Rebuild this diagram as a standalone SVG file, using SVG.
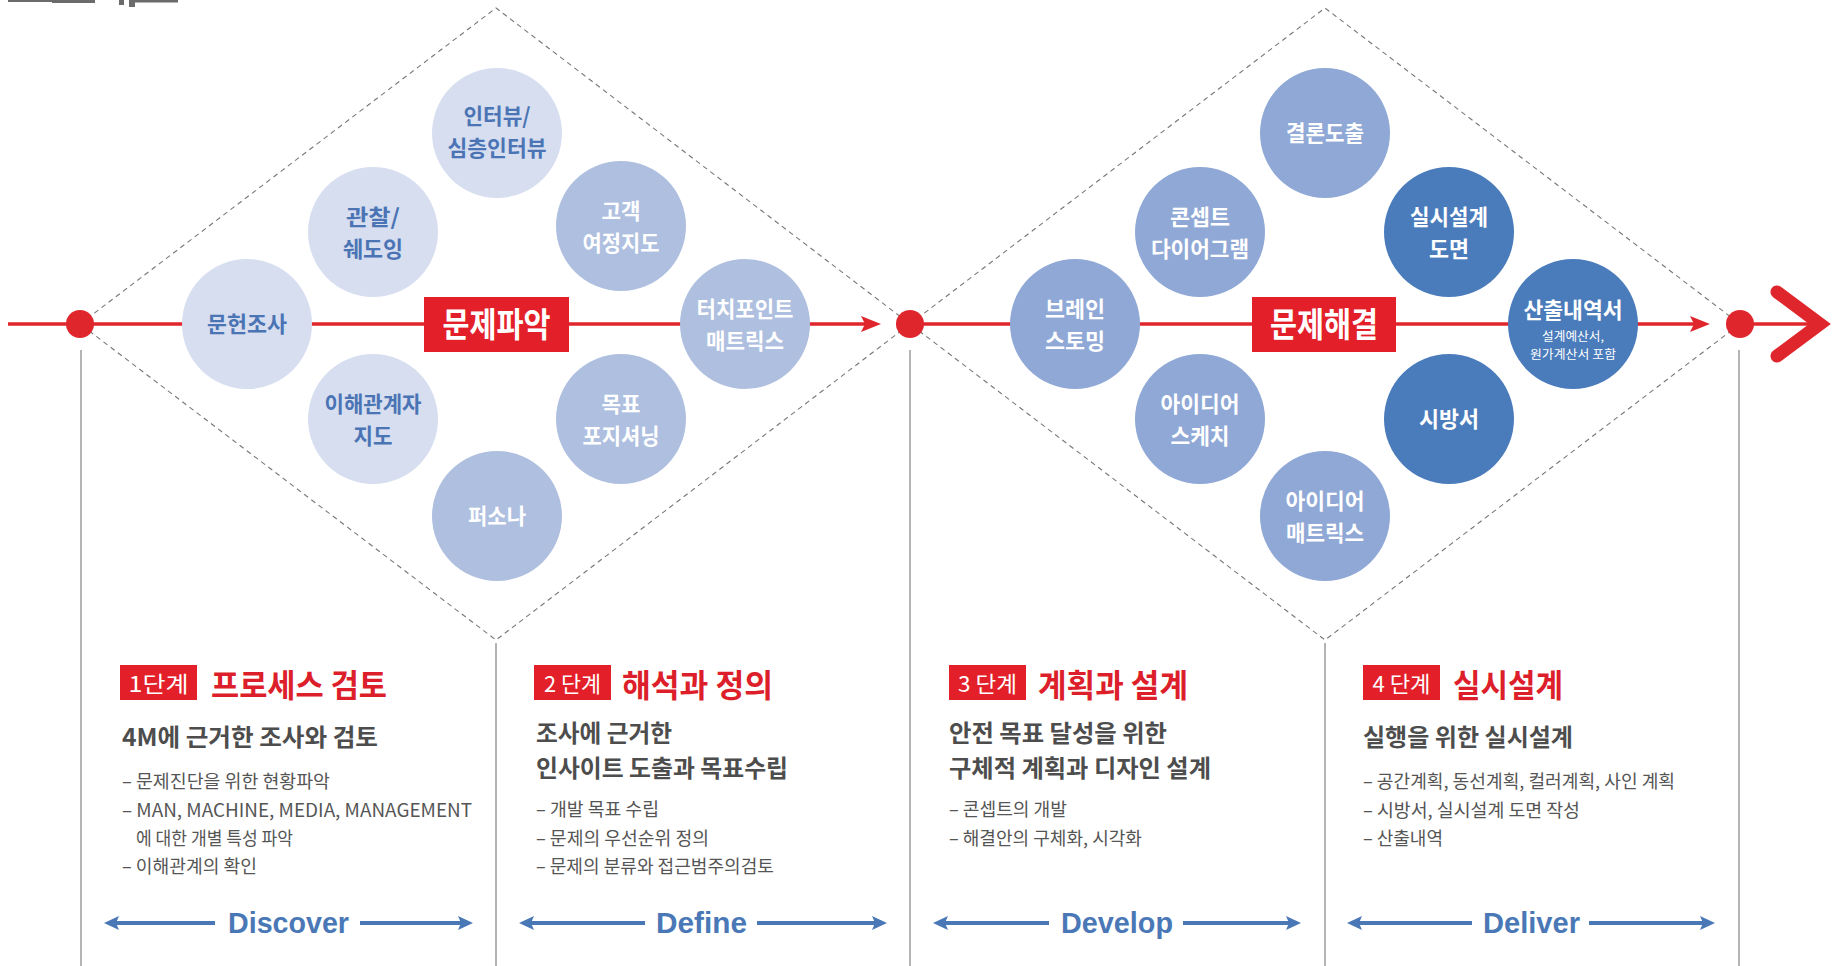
<svg xmlns="http://www.w3.org/2000/svg" width="1835" height="966" viewBox="0 0 1835 966">
<style>
  text { font-family: "Noto Sans CJK KR", "Noto Sans", sans-serif; }
  .c1 { fill: #d6def0; }
  .c2 { fill: #aebfdf; }
  .c3 { fill: #8fa8d5; }
  .c4 { fill: #4a7bbb; }
  .tb { fill: #4b74b4; font-size: 22px; font-weight: 700; text-anchor: middle; }
  .tw { fill: #ffffff; font-size: 22px; font-weight: 700; text-anchor: middle; }
  .ts { fill: #ffffff; font-size: 12px; font-weight: 400; text-anchor: middle; }
  .box { fill: #e3202a; }
  .boxt { fill: #ffffff; font-size: 34px; font-weight: 700; text-anchor: middle; }
  .stept { fill: #ffffff; font-size: 22px; font-weight: 400; text-anchor: middle; }
  .head { fill: #dc1f2b; font-size: 32px; font-weight: 700; }
  .sub { fill: #4d4d4d; font-size: 24px; font-weight: 700; }
  .bul { fill: #555555; font-size: 18px; font-weight: 400; }
  .phase { fill: #4a78b6; font-size: 29px; font-weight: 700; font-family: "Liberation Sans", Arial, sans-serif; text-anchor: middle; }
  .dash { fill: none; stroke: #777777; stroke-width: 1.1; stroke-dasharray: 5 4; }
  .vline { stroke: #8c8c8c; stroke-width: 1.3; fill: none; }
  .red { stroke: #e0262d; stroke-width: 3.5; fill: none; }
  .redf { fill: #e0262d; }
  .barr { stroke: #4a78b6; stroke-width: 4; fill: none; }
  .barrh { fill: #4a78b6; }
</style>

<!-- cropped heading fragment at top-left -->
<g id="top-fragment" fill="#6b6b6b">
  <rect x="8" y="0" width="87" height="2"/>
  <rect x="52" y="0" width="43" height="3"/>
  <rect x="119" y="0" width="5" height="5"/>
  <rect x="129" y="0" width="6" height="7"/>
  <rect x="135" y="0" width="43" height="2.5"/>
</g>

<g id="connectors">
  <polygon class="dash" points="80,324 496,8 910,324 496,640"/>
  <polygon class="dash" points="910,324 1325,8 1740,324 1325,640"/>
  <line class="vline" x1="81" y1="350" x2="81" y2="966"/>
  <line class="vline" x1="496" y1="643" x2="496" y2="966"/>
  <line class="vline" x1="910" y1="350" x2="910" y2="966"/>
  <line class="vline" x1="1325" y1="643" x2="1325" y2="966"/>
  <line class="vline" x1="1739" y1="350" x2="1739" y2="966"/>
  <line class="red" x1="8" y1="324" x2="868" y2="324"/>
  <path class="redf" d="M861,316 L881,324 L861,332 L865,324 Z"/>
  <line class="red" x1="910" y1="324" x2="1697" y2="324"/>
  <path class="redf" d="M1690,316 L1710,324 L1690,332 L1694,324 Z"/>
  <line class="red" x1="1740" y1="324" x2="1816" y2="324"/>
  <polyline points="1777,292 1820,324 1777,356" fill="none" stroke="#e0262d" stroke-width="13" stroke-linecap="round" stroke-linejoin="miter"/>
  <line class="barr" x1="112" y1="923" x2="215" y2="923"/>
  <path class="barrh" d="M104,923 L119,916 L116,923 L119,930 Z"/>
  <line class="barr" x1="360" y1="923" x2="465" y2="923"/>
  <path class="barrh" d="M473,923 L458,916 L461,923 L458,930 Z"/>
  <line class="barr" x1="527" y1="923" x2="645" y2="923"/>
  <path class="barrh" d="M519,923 L534,916 L531,923 L534,930 Z"/>
  <line class="barr" x1="757" y1="923" x2="879" y2="923"/>
  <path class="barrh" d="M887,923 L872,916 L875,923 L872,930 Z"/>
  <line class="barr" x1="941" y1="923" x2="1049" y2="923"/>
  <path class="barrh" d="M933,923 L948,916 L945,923 L948,930 Z"/>
  <line class="barr" x1="1183" y1="923" x2="1293" y2="923"/>
  <path class="barrh" d="M1301,923 L1286,916 L1289,923 L1286,930 Z"/>
  <line class="barr" x1="1355" y1="923" x2="1472" y2="923"/>
  <path class="barrh" d="M1347,923 L1362,916 L1359,923 L1362,930 Z"/>
  <line class="barr" x1="1589" y1="923" x2="1707" y2="923"/>
  <path class="barrh" d="M1715,923 L1700,916 L1703,923 L1700,930 Z"/>
</g>

<!-- Diamond 1 nodes -->
<g id="n-munheon"><circle class="c1" cx="247" cy="324" r="65"/><text class="tb" x="247" y="332" textLength="80" lengthAdjust="spacingAndGlyphs">문헌조사</text></g>
<g id="n-gwanchal"><circle class="c1" cx="373" cy="232" r="65"/><text class="tb"><tspan x="373" y="225" textLength="54" lengthAdjust="spacingAndGlyphs">관찰/</tspan><tspan x="373" y="257" textLength="60" lengthAdjust="spacingAndGlyphs">쉐도잉</tspan></text></g>
<g id="n-interview"><circle class="c1" cx="497" cy="133" r="65"/><text class="tb"><tspan x="497" y="124" textLength="67" lengthAdjust="spacingAndGlyphs">인터뷰/</tspan><tspan x="497" y="156" textLength="99" lengthAdjust="spacingAndGlyphs">심층인터뷰</tspan></text></g>
<g id="n-stakeholder"><circle class="c1" cx="373" cy="419" r="65"/><text class="tb"><tspan x="373" y="412" textLength="97" lengthAdjust="spacingAndGlyphs">이해관계자</tspan><tspan x="373" y="444" textLength="39" lengthAdjust="spacingAndGlyphs">지도</tspan></text></g>
<g id="n-persona"><circle class="c2" cx="497" cy="516" r="65"/><text class="tw" x="497" y="524" textLength="58" lengthAdjust="spacingAndGlyphs">퍼소나</text></g>
<g id="n-journey"><circle class="c2" cx="621" cy="226" r="65"/><text class="tw"><tspan x="621" y="219" textLength="39" lengthAdjust="spacingAndGlyphs">고객</tspan><tspan x="621" y="251" textLength="77" lengthAdjust="spacingAndGlyphs">여정지도</tspan></text></g>
<g id="n-positioning"><circle class="c2" cx="621" cy="419" r="65"/><text class="tw"><tspan x="621" y="412" textLength="39" lengthAdjust="spacingAndGlyphs">목표</tspan><tspan x="621" y="444" textLength="77" lengthAdjust="spacingAndGlyphs">포지셔닝</tspan></text></g>
<g id="n-touchpoint"><circle class="c2" cx="745" cy="324" r="65"/><text class="tw"><tspan x="745" y="317" textLength="97" lengthAdjust="spacingAndGlyphs">터치포인트</tspan><tspan x="745" y="349" textLength="78" lengthAdjust="spacingAndGlyphs">매트릭스</tspan></text></g>
<g id="label-problem-find"><rect class="box" x="424" y="297" width="145" height="55"/><text class="boxt" x="496.5" y="337" textLength="108" lengthAdjust="spacingAndGlyphs">문제파악</text></g>

<!-- Diamond 2 nodes -->
<g id="n-brainstorm"><circle class="c3" cx="1075" cy="324" r="65"/><text class="tw"><tspan x="1075" y="317" textLength="60" lengthAdjust="spacingAndGlyphs">브레인</tspan><tspan x="1075" y="349" textLength="60" lengthAdjust="spacingAndGlyphs">스토밍</tspan></text></g>
<g id="n-concept"><circle class="c3" cx="1200" cy="232" r="65"/><text class="tw"><tspan x="1200" y="225" textLength="60" lengthAdjust="spacingAndGlyphs">콘셉트</tspan><tspan x="1200" y="257" textLength="98" lengthAdjust="spacingAndGlyphs">다이어그램</tspan></text></g>
<g id="n-conclusion"><circle class="c3" cx="1325" cy="133" r="65"/><text class="tw" x="1325" y="141" textLength="78" lengthAdjust="spacingAndGlyphs">결론도출</text></g>
<g id="n-sketch"><circle class="c3" cx="1200" cy="419" r="65"/><text class="tw"><tspan x="1200" y="412" textLength="79" lengthAdjust="spacingAndGlyphs">아이디어</tspan><tspan x="1200" y="444" textLength="59" lengthAdjust="spacingAndGlyphs">스케치</tspan></text></g>
<g id="n-idea-matrix"><circle class="c3" cx="1325" cy="516" r="65"/><text class="tw"><tspan x="1325" y="509" textLength="79" lengthAdjust="spacingAndGlyphs">아이디어</tspan><tspan x="1325" y="541" textLength="78" lengthAdjust="spacingAndGlyphs">매트릭스</tspan></text></g>
<g id="n-drawing"><circle class="c4" cx="1449" cy="232" r="65"/><text class="tw"><tspan x="1449" y="225" textLength="78" lengthAdjust="spacingAndGlyphs">실시설계</tspan><tspan x="1449" y="257" textLength="40" lengthAdjust="spacingAndGlyphs">도면</tspan></text></g>
<g id="n-spec"><circle class="c4" cx="1449" cy="419" r="65"/><text class="tw" x="1449" y="427" textLength="60" lengthAdjust="spacingAndGlyphs">시방서</text></g>
<g id="n-estimate"><circle class="c4" cx="1573" cy="324" r="65"/><text class="tw"><tspan x="1573" y="318" textLength="99" lengthAdjust="spacingAndGlyphs">산출내역서</tspan><tspan class="ts" x="1573" y="341" textLength="62" lengthAdjust="spacingAndGlyphs">설계예산서,</tspan><tspan class="ts" x="1573" y="359" textLength="86" lengthAdjust="spacingAndGlyphs">원가계산서 포함</tspan></text></g>
<g id="label-problem-solve"><rect class="box" x="1252" y="297" width="144" height="55"/><text class="boxt" x="1324" y="337" textLength="108" lengthAdjust="spacingAndGlyphs">문제해결</text></g>

<!-- dots -->
<g id="dot-1"><circle class="redf" cx="80" cy="324" r="14"/></g>
<g id="dot-2"><circle class="redf" cx="910" cy="324" r="14"/></g>
<g id="dot-3"><circle class="redf" cx="1740" cy="324" r="14"/></g>

<!-- Section 1 -->
<g id="step-1">
  <rect class="box" x="120" y="665" width="77" height="35"/>
  <text class="stept" x="158.5" y="692" textLength="60" lengthAdjust="spacingAndGlyphs">1단계</text>
  <text class="head" x="211" y="697" textLength="176" lengthAdjust="spacingAndGlyphs">프로세스 검토</text>
  <text class="sub" x="122" y="746" textLength="256" lengthAdjust="spacingAndGlyphs">4M에 근거한 조사와 검토</text>
  <text class="bul" x="122" y="788" textLength="208" lengthAdjust="spacingAndGlyphs">– 문제진단을 위한 현황파악</text>
  <text class="bul" x="122" y="817" textLength="350" lengthAdjust="spacingAndGlyphs">– MAN, MACHINE, MEDIA, MANAGEMENT</text>
  <text class="bul" x="136" y="845" textLength="157" lengthAdjust="spacingAndGlyphs">에 대한 개별 특성 파악</text>
  <text class="bul" x="122" y="873" textLength="135" lengthAdjust="spacingAndGlyphs">– 이해관계의 확인</text>
</g>
<!-- Section 2 -->
<g id="step-2">
  <rect class="box" x="534" y="665" width="77" height="35"/>
  <text class="stept" x="572.5" y="692" textLength="57" lengthAdjust="spacingAndGlyphs">2 단계</text>
  <text class="head" x="622" y="697" textLength="151" lengthAdjust="spacingAndGlyphs">해석과 정의</text>
  <text class="sub"><tspan x="536" y="742" textLength="136" lengthAdjust="spacingAndGlyphs">조사에 근거한</tspan><tspan x="536" y="777" textLength="252" lengthAdjust="spacingAndGlyphs">인사이트 도출과 목표수립</tspan></text>
  <text class="bul" x="536" y="816" textLength="123" lengthAdjust="spacingAndGlyphs">– 개발 목표 수립</text>
  <text class="bul" x="536" y="845" textLength="173" lengthAdjust="spacingAndGlyphs">– 문제의 우선순위 정의</text>
  <text class="bul" x="536" y="873" textLength="238" lengthAdjust="spacingAndGlyphs">– 문제의 분류와 접근범주의검토</text>
</g>
<!-- Section 3 -->
<g id="step-3">
  <rect class="box" x="949" y="665" width="77" height="35"/>
  <text class="stept" x="987.5" y="692" textLength="59" lengthAdjust="spacingAndGlyphs">3 단계</text>
  <text class="head" x="1038" y="697" textLength="150" lengthAdjust="spacingAndGlyphs">계획과 설계</text>
  <text class="sub"><tspan x="949" y="742" textLength="218" lengthAdjust="spacingAndGlyphs">안전 목표 달성을 위한</tspan><tspan x="949" y="777" textLength="262" lengthAdjust="spacingAndGlyphs">구체적 계획과 디자인 설계</tspan></text>
  <text class="bul" x="949" y="816" textLength="118" lengthAdjust="spacingAndGlyphs">– 콘셉트의 개발</text>
  <text class="bul" x="949" y="845" textLength="193" lengthAdjust="spacingAndGlyphs">– 해결안의 구체화, 시각화</text>
</g>
<!-- Section 4 -->
<g id="step-4">
  <rect class="box" x="1363" y="665" width="77" height="35"/>
  <text class="stept" x="1401.5" y="692" textLength="58" lengthAdjust="spacingAndGlyphs">4 단계</text>
  <text class="head" x="1453" y="697" textLength="110" lengthAdjust="spacingAndGlyphs">실시설계</text>
  <text class="sub" x="1363" y="746" textLength="210" lengthAdjust="spacingAndGlyphs">실행을 위한 실시설계</text>
  <text class="bul" x="1363" y="788" textLength="312" lengthAdjust="spacingAndGlyphs">– 공간계획, 동선계획, 컬러계획, 사인 계획</text>
  <text class="bul" x="1363" y="817" textLength="217" lengthAdjust="spacingAndGlyphs">– 시방서, 실시설계 도면 작성</text>
  <text class="bul" x="1363" y="845" textLength="80" lengthAdjust="spacingAndGlyphs">– 산출내역</text>
</g>

<!-- Phase labels -->
<g id="phase-discover"><text class="phase" x="288.5" y="933" textLength="121" lengthAdjust="spacingAndGlyphs">Discover</text></g>
<g id="phase-define"><text class="phase" x="701.5" y="933" textLength="91" lengthAdjust="spacingAndGlyphs">Define</text></g>
<g id="phase-develop"><text class="phase" x="1117" y="933" textLength="112" lengthAdjust="spacingAndGlyphs">Develop</text></g>
<g id="phase-deliver"><text class="phase" x="1531.5" y="933" textLength="97" lengthAdjust="spacingAndGlyphs">Deliver</text></g>
</svg>
